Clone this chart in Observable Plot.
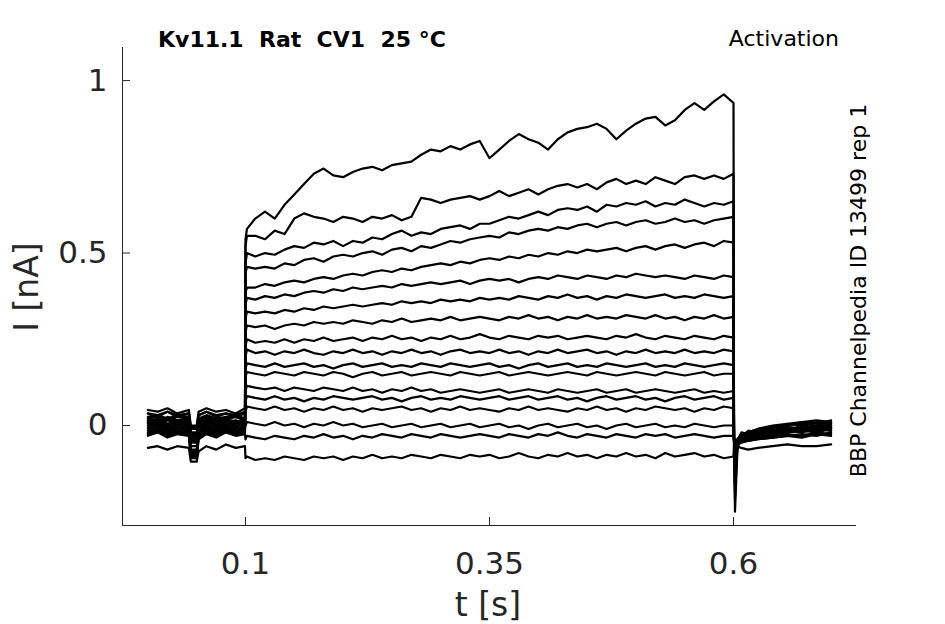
<!DOCTYPE html>
<html>
<head>
<meta charset="utf-8">
<script src="https://cdn.jsdelivr.net/npm/d3@7"></script>
<script src="https://cdn.jsdelivr.net/npm/@observablehq/plot@0.6"></script>
<style>
  html, body { margin: 0; padding: 0; background: #ffffff; }
</style>
</head>
<body>
<div id="chart"></div>
<script>
// ---- data ----
// sample times [s]: pre-pulse, step (0.1 - 0.6 s), tail
const time = [
  0, 0.01, 0.02, 0.03, 0.042, 0.044, 0.05, 0.052, 0.06, 0.07, 0.08, 0.09, 0.0995,
  0.1, 0.1015,
  0.11, 0.12, 0.13, 0.14, 0.15, 0.16, 0.17, 0.18, 0.19, 0.20,
  0.21, 0.22, 0.23, 0.24, 0.25, 0.26, 0.27, 0.28, 0.29, 0.30,
  0.31, 0.32, 0.33, 0.34, 0.35, 0.36, 0.37, 0.38, 0.39, 0.40,
  0.41, 0.42, 0.43, 0.44, 0.45, 0.46, 0.47, 0.48, 0.49, 0.50,
  0.51, 0.52, 0.53, 0.54, 0.55, 0.56, 0.57, 0.58, 0.59, 0.60,
  0.6005, 0.6015, 0.604, 0.608, 0.615, 0.625, 0.64, 0.655, 0.67, 0.685, 0.70
];

// current [nA] of each sweep at those times
const sweep01 = [
  0.01, 0.02, 0.005, 0.015, 0.0, -0.05, -0.05, -0.01, 0.015, 0.005, 0.02, 0.01, 0.015,
  0.54, 0.57,
  0.60, 0.62, 0.60, 0.64, 0.67, 0.70, 0.73, 0.745, 0.725, 0.72,
  0.735, 0.745, 0.75, 0.74, 0.755, 0.76, 0.765, 0.785, 0.80, 0.795,
  0.81, 0.80, 0.815, 0.825, 0.775, 0.80, 0.825, 0.845, 0.83, 0.82,
  0.80, 0.83, 0.85, 0.86, 0.865, 0.875, 0.86, 0.83, 0.855, 0.875,
  0.89, 0.895, 0.87, 0.885, 0.915, 0.935, 0.915, 0.94, 0.96, 0.935,
  -0.04, -0.25, -0.07, -0.03, -0.02, -0.01, 0.0, 0.005, 0.01, 0.015, 0.01
];
const sweep02 = [
  0.035, 0.025, 0.04, 0.03, 0.035, -0.02, -0.02, 0.03, 0.04, 0.025, 0.035, 0.03, 0.04,
  0.52, 0.55,
  0.55, 0.54, 0.565, 0.555, 0.60, 0.615, 0.605, 0.60, 0.59, 0.605,
  0.60, 0.59, 0.605, 0.60, 0.61, 0.595, 0.605, 0.66, 0.655, 0.645,
  0.655, 0.66, 0.665, 0.655, 0.665, 0.68, 0.665, 0.675, 0.685, 0.67,
  0.685, 0.695, 0.70, 0.69, 0.70, 0.685, 0.705, 0.715, 0.70, 0.71,
  0.70, 0.72, 0.71, 0.70, 0.72, 0.725, 0.715, 0.725, 0.715, 0.73,
  -0.035, -0.21, -0.06, -0.035, -0.015, -0.02, -0.005, 0.0, 0.01, 0.005, 0.015
];
const sweep03 = [
  -0.01, 0.0, -0.015, -0.005, -0.01, -0.08, -0.08, -0.02, -0.005, -0.015, 0.0, -0.01, -0.005,
  0.47, 0.50,
  0.49, 0.50, 0.495, 0.51, 0.52, 0.515, 0.53, 0.525, 0.535, 0.52,
  0.535, 0.53, 0.545, 0.54, 0.555, 0.565, 0.55, 0.56, 0.555, 0.57,
  0.575, 0.58, 0.57, 0.585, 0.585, 0.595, 0.605, 0.60, 0.61, 0.62,
  0.61, 0.625, 0.63, 0.625, 0.635, 0.62, 0.64, 0.635, 0.645, 0.64,
  0.65, 0.635, 0.645, 0.64, 0.655, 0.645, 0.635, 0.645, 0.64, 0.65,
  -0.03, -0.19, -0.055, -0.025, -0.03, -0.015, -0.01, 0.005, 0.0, 0.01, 0.005
];
const sweep04 = [
  0.02, 0.01, 0.025, 0.015, 0.02, -0.03, -0.03, 0.01, 0.025, 0.015, 0.02, 0.025, 0.015,
  0.44, 0.46,
  0.455, 0.46, 0.455, 0.47, 0.465, 0.48, 0.485, 0.475, 0.49, 0.495,
  0.49, 0.50, 0.505, 0.495, 0.51, 0.515, 0.505, 0.52, 0.515, 0.525,
  0.535, 0.53, 0.54, 0.545, 0.55, 0.545, 0.56, 0.555, 0.565, 0.57,
  0.565, 0.575, 0.57, 0.58, 0.585, 0.575, 0.585, 0.59, 0.58, 0.59,
  0.595, 0.585, 0.59, 0.60, 0.59, 0.595, 0.585, 0.595, 0.60, 0.605,
  -0.04, -0.17, -0.05, -0.03, -0.02, -0.025, -0.01, -0.015, 0.0, -0.005, 0.005
];
const sweep05 = [
  0.0, 0.01, -0.005, 0.005, 0.0, -0.06, -0.06, -0.01, 0.005, -0.005, 0.01, 0.0, 0.005,
  0.385, 0.40,
  0.40, 0.41, 0.405, 0.415, 0.42, 0.415, 0.425, 0.43, 0.425, 0.435,
  0.44, 0.435, 0.445, 0.45, 0.445, 0.455, 0.45, 0.46, 0.465, 0.47,
  0.465, 0.475, 0.47, 0.48, 0.485, 0.48, 0.49, 0.485, 0.495, 0.49,
  0.50, 0.495, 0.505, 0.50, 0.51, 0.505, 0.51, 0.515, 0.505, 0.515,
  0.52, 0.51, 0.52, 0.525, 0.515, 0.525, 0.53, 0.52, 0.535, 0.53,
  -0.03, -0.15, -0.045, -0.02, -0.025, -0.015, -0.02, -0.005, -0.01, 0.0, -0.005
];
const sweep06 = [
  0.045, 0.04, 0.05, 0.035, 0.045, 0.0, 0.0, 0.04, 0.05, 0.04, 0.045, 0.035, 0.05,
  0.35, 0.37,
  0.365, 0.375, 0.37, 0.38, 0.375, 0.385, 0.39, 0.385, 0.395, 0.39,
  0.40, 0.395, 0.40, 0.405, 0.40, 0.41, 0.405, 0.41, 0.415, 0.41,
  0.415, 0.42, 0.41, 0.42, 0.425, 0.42, 0.425, 0.415, 0.425, 0.43,
  0.425, 0.435, 0.43, 0.425, 0.435, 0.43, 0.425, 0.435, 0.43, 0.44,
  0.435, 0.43, 0.435, 0.43, 0.425, 0.435, 0.43, 0.425, 0.435, 0.43,
  -0.035, -0.14, -0.05, -0.035, -0.03, -0.02, -0.015, -0.01, -0.005, -0.01, 0.0
];
const sweep07 = [
  -0.02, -0.01, -0.025, -0.015, -0.02, -0.09, -0.09, -0.03, -0.015, -0.025, -0.01, -0.02, -0.015,
  0.31, 0.33,
  0.325, 0.33, 0.325, 0.335, 0.33, 0.34, 0.335, 0.345, 0.34, 0.345,
  0.35, 0.345, 0.35, 0.355, 0.35, 0.36, 0.355, 0.36, 0.355, 0.365,
  0.36, 0.365, 0.36, 0.37, 0.365, 0.37, 0.365, 0.375, 0.37, 0.365,
  0.375, 0.37, 0.38, 0.37, 0.375, 0.365, 0.375, 0.37, 0.38, 0.375,
  0.37, 0.375, 0.38, 0.37, 0.375, 0.37, 0.38, 0.375, 0.37, 0.375,
  -0.04, -0.12, -0.045, -0.03, -0.035, -0.025, -0.02, -0.015, -0.02, -0.01, -0.015
];
const sweep08 = [
  0.01, 0.0, 0.015, 0.005, 0.01, -0.04, -0.04, 0.0, 0.015, 0.005, 0.01, 0.015, 0.005,
  0.27, 0.29,
  0.285, 0.29, 0.28, 0.29, 0.295, 0.29, 0.30, 0.295, 0.30, 0.295,
  0.305, 0.30, 0.295, 0.305, 0.30, 0.31, 0.30, 0.305, 0.31, 0.305,
  0.315, 0.305, 0.31, 0.315, 0.31, 0.305, 0.315, 0.31, 0.32, 0.31,
  0.315, 0.305, 0.315, 0.31, 0.32, 0.31, 0.315, 0.31, 0.32, 0.315,
  0.31, 0.32, 0.31, 0.315, 0.305, 0.315, 0.31, 0.32, 0.31, 0.315,
  -0.03, -0.11, -0.05, -0.04, -0.025, -0.03, -0.02, -0.01, -0.015, -0.005, -0.01
];
const sweep09 = [
  0.025, 0.03, 0.02, 0.03, 0.025, -0.01, -0.01, 0.02, 0.03, 0.02, 0.025, 0.03, 0.02,
  0.23, 0.25,
  0.24, 0.245, 0.24, 0.25, 0.24, 0.25, 0.245, 0.255, 0.245, 0.25,
  0.255, 0.245, 0.255, 0.25, 0.26, 0.25, 0.255, 0.245, 0.255, 0.25,
  0.26, 0.25, 0.255, 0.265, 0.255, 0.25, 0.26, 0.255, 0.25, 0.26,
  0.255, 0.26, 0.25, 0.255, 0.26, 0.255, 0.25, 0.26, 0.255, 0.265,
  0.255, 0.25, 0.26, 0.255, 0.25, 0.26, 0.255, 0.25, 0.26, 0.255,
  -0.035, -0.10, -0.04, -0.025, -0.02, -0.01, -0.005, 0.0, 0.005, 0.0, 0.01
];
const sweep10 = [
  -0.005, 0.005, -0.01, 0.0, -0.005, -0.07, -0.07, -0.015, 0.0, -0.01, 0.005, -0.005, 0.0,
  0.20, 0.22,
  0.21, 0.215, 0.205, 0.215, 0.21, 0.22, 0.21, 0.205, 0.215, 0.21,
  0.22, 0.21, 0.215, 0.205, 0.215, 0.21, 0.22, 0.21, 0.215, 0.205,
  0.215, 0.22, 0.21, 0.215, 0.21, 0.22, 0.21, 0.215, 0.205, 0.215,
  0.21, 0.22, 0.21, 0.215, 0.22, 0.21, 0.215, 0.205, 0.215, 0.21,
  0.22, 0.21, 0.215, 0.21, 0.22, 0.21, 0.215, 0.21, 0.22, 0.215,
  -0.045, -0.09, -0.055, -0.04, -0.035, -0.03, -0.025, -0.02, -0.015, -0.02, -0.01
];
const sweep11 = [
  0.015, 0.005, 0.02, 0.01, 0.015, -0.035, -0.035, 0.005, 0.02, 0.01, 0.015, 0.005, 0.02,
  0.165, 0.18,
  0.175, 0.17, 0.18, 0.17, 0.175, 0.18, 0.17, 0.175, 0.165, 0.175,
  0.18, 0.17, 0.175, 0.18, 0.17, 0.175, 0.17, 0.18, 0.175, 0.17,
  0.18, 0.175, 0.17, 0.175, 0.18, 0.17, 0.175, 0.165, 0.175, 0.18,
  0.17, 0.175, 0.18, 0.17, 0.175, 0.17, 0.18, 0.175, 0.17, 0.175,
  0.18, 0.17, 0.175, 0.17, 0.18, 0.175, 0.17, 0.175, 0.18, 0.175,
  -0.03, -0.08, -0.04, -0.03, -0.02, -0.015, -0.01, -0.005, -0.01, 0.0, -0.005
];
const sweep12 = [
  -0.025, -0.015, -0.03, -0.02, -0.025, -0.085, -0.085, -0.035, -0.02, -0.03, -0.015, -0.025, -0.02,
  0.14, 0.155,
  0.15, 0.145, 0.155, 0.15, 0.145, 0.155, 0.15, 0.145, 0.155, 0.15,
  0.14, 0.15, 0.155, 0.145, 0.15, 0.155, 0.145, 0.15, 0.155, 0.15,
  0.145, 0.155, 0.15, 0.145, 0.15, 0.155, 0.145, 0.15, 0.155, 0.15,
  0.145, 0.15, 0.155, 0.15, 0.145, 0.155, 0.15, 0.145, 0.15, 0.155,
  0.15, 0.145, 0.155, 0.15, 0.145, 0.15, 0.155, 0.145, 0.15, 0.15,
  -0.04, -0.075, -0.045, -0.035, -0.03, -0.025, -0.03, -0.02, -0.015, -0.01, -0.015
];
const sweep13 = [
  0.035, 0.03, 0.04, 0.025, 0.035, -0.005, -0.005, 0.03, 0.04, 0.03, 0.035, 0.025, 0.035,
  0.10, 0.115,
  0.11, 0.105, 0.11, 0.10, 0.11, 0.105, 0.10, 0.11, 0.105, 0.10,
  0.11, 0.10, 0.105, 0.095, 0.105, 0.10, 0.11, 0.10, 0.105, 0.095,
  0.10, 0.105, 0.10, 0.095, 0.10, 0.105, 0.095, 0.10, 0.105, 0.10,
  0.095, 0.105, 0.10, 0.095, 0.10, 0.105, 0.095, 0.10, 0.105, 0.095,
  0.10, 0.105, 0.10, 0.095, 0.10, 0.105, 0.095, 0.10, 0.095, 0.10,
  -0.035, -0.07, -0.04, -0.03, -0.025, -0.02, -0.015, -0.02, -0.01, -0.005, 0.0
];
const sweep14 = [
  0.005, 0.015, 0.0, 0.01, 0.005, -0.045, -0.045, -0.005, 0.01, 0.0, 0.015, 0.005, 0.01,
  0.07, 0.085,
  0.08, 0.075, 0.085, 0.075, 0.08, 0.07, 0.08, 0.075, 0.085, 0.08,
  0.075, 0.08, 0.085, 0.075, 0.08, 0.07, 0.08, 0.085, 0.075, 0.08,
  0.075, 0.085, 0.08, 0.075, 0.08, 0.085, 0.075, 0.08, 0.085, 0.075,
  0.08, 0.085, 0.075, 0.08, 0.07, 0.08, 0.085, 0.075, 0.08, 0.085,
  0.075, 0.08, 0.07, 0.08, 0.085, 0.075, 0.08, 0.085, 0.075, 0.08,
  -0.04, -0.065, -0.05, -0.045, -0.04, -0.035, -0.03, -0.025, -0.03, -0.02, -0.025
];
const sweep15 = [
  -0.015, -0.005, -0.02, -0.01, -0.015, -0.075, -0.075, -0.025, -0.01, -0.02, -0.005, -0.015, -0.01,
  0.04, 0.055,
  0.05, 0.045, 0.055, 0.045, 0.05, 0.04, 0.05, 0.045, 0.055, 0.045,
  0.05, 0.04, 0.05, 0.045, 0.05, 0.055, 0.045, 0.05, 0.04, 0.05,
  0.045, 0.055, 0.045, 0.05, 0.045, 0.04, 0.05, 0.045, 0.055, 0.045,
  0.05, 0.045, 0.04, 0.05, 0.045, 0.055, 0.045, 0.05, 0.04, 0.05,
  0.045, 0.055, 0.05, 0.045, 0.05, 0.04, 0.05, 0.045, 0.055, 0.05,
  -0.045, -0.06, -0.05, -0.04, -0.045, -0.04, -0.035, -0.03, -0.025, -0.03, -0.02
];
const sweep16 = [
  0.02, 0.025, 0.015, 0.025, 0.02, -0.025, -0.025, 0.015, 0.025, 0.015, 0.02, 0.025, 0.015,
  0.0, 0.01,
  0.005, 0.0, 0.01, 0.0, 0.005, -0.005, 0.005, 0.0, 0.01, 0.0,
  0.005, -0.005, 0.0, 0.005, -0.005, 0.0, 0.005, -0.005, 0.0, 0.005,
  -0.005, 0.0, 0.005, -0.005, 0.0, 0.005, -0.005, 0.0, -0.01, 0.0,
  0.005, -0.005, 0.0, 0.005, -0.005, 0.0, -0.01, 0.0, 0.005, -0.005,
  0.0, 0.005, -0.005, 0.0, -0.005, 0.005, 0.0, -0.005, 0.0, 0.0,
  -0.04, -0.055, -0.045, -0.035, -0.03, -0.02, -0.025, -0.015, -0.01, -0.015, -0.005
];
const sweep17 = [
  -0.03, -0.02, -0.035, -0.025, -0.03, -0.095, -0.095, -0.04, -0.025, -0.035, -0.02, -0.03, -0.025,
  -0.04, -0.03,
  -0.035, -0.04, -0.03, -0.035, -0.04, -0.03, -0.035, -0.025, -0.035, -0.03,
  -0.04, -0.03, -0.035, -0.025, -0.03, -0.035, -0.025, -0.03, -0.035, -0.025,
  -0.03, -0.035, -0.03, -0.025, -0.03, -0.035, -0.025, -0.03, -0.035, -0.025,
  -0.03, -0.02, -0.03, -0.035, -0.025, -0.03, -0.035, -0.025, -0.03, -0.035,
  -0.025, -0.03, -0.025, -0.035, -0.03, -0.025, -0.03, -0.035, -0.03, -0.03,
  -0.05, -0.06, -0.055, -0.05, -0.045, -0.04, -0.035, -0.03, -0.035, -0.025, -0.03
];
const sweep18 = [
  -0.065, -0.06, -0.07, -0.06, -0.065, -0.105, -0.105, -0.075, -0.06, -0.07, -0.055, -0.065, -0.06,
  -0.095, -0.09,
  -0.10, -0.095, -0.10, -0.09, -0.095, -0.10, -0.09, -0.095, -0.09, -0.10,
  -0.09, -0.095, -0.085, -0.095, -0.09, -0.095, -0.085, -0.09, -0.095, -0.085,
  -0.09, -0.095, -0.085, -0.09, -0.085, -0.095, -0.09, -0.08, -0.09, -0.095,
  -0.085, -0.09, -0.08, -0.09, -0.085, -0.095, -0.085, -0.09, -0.08, -0.09,
  -0.085, -0.095, -0.08, -0.09, -0.085, -0.08, -0.09, -0.085, -0.095, -0.09,
  -0.05, -0.06, -0.06, -0.065, -0.07, -0.065, -0.06, -0.055, -0.06, -0.06, -0.055
];

const sweeps = [sweep01, sweep02, sweep03, sweep04, sweep05, sweep06, sweep07, sweep08, sweep09,
                sweep10, sweep11, sweep12, sweep13, sweep14, sweep15, sweep16, sweep17, sweep18];

const xTicks = [0.1, 0.35, 0.6];
const yTicks = [0, 0.5, 1];
const titleText = "Kv11.1  Rat  CV1  25 °C";
const protocolText = "Activation";
const sourceText = "BBP Channelpedia ID 13499 rep 1";
const xLabel = "t [s]";
const yLabel = "I [nA]";

// ---- build table ----
const rows = [];
sweeps.forEach((vals, k) => {
  const n = Math.min(vals.length, time.length);
  for (let j = 0; j < n; j++) rows.push({sweep: k, t: time[j], I: vals[j]});
});

const xDomain = [-0.026, 0.726];
const yDomain = [-0.29, 1.096];
const axisColor = "#262626";

const plot = Plot.plot({
  width: 945,
  height: 624,
  marginLeft: 122,
  marginRight: 89,
  marginTop: 47,
  marginBottom: 99,
  x: {domain: xDomain},
  y: {domain: yDomain},
  style: {fontFamily: "DejaVu Sans", background: "#ffffff", color: axisColor},
  marks: [
    Plot.ruleX([xDomain[0]], {stroke: axisColor, strokeWidth: 1}),
    Plot.ruleY([yDomain[0]], {stroke: axisColor, strokeWidth: 1}),
    Plot.line(rows, {x: "t", y: "I", z: "sweep", stroke: "#000000", strokeWidth: 2.2, strokeLinejoin: "round"}),
    // tick labels
    Plot.axisX({ticks: xTicks, tickSize: 0, tickPadding: 26, fontSize: 31, tickFormat: d => String(d), label: null, fill: axisColor}),
    Plot.axisY({ticks: yTicks, tickSize: 0, tickPadding: 15, fontSize: 31, tickFormat: d => String(d), label: null, fill: axisColor}),
    // inward tick marks
    Plot.axisX({ticks: xTicks, tickSize: 8, dy: -8, fill: "none", label: null, stroke: axisColor}),
    Plot.axisY({ticks: yTicks, tickSize: 8, dx: 8, fill: "none", label: null, stroke: axisColor})
  ]
});

const svg = d3.select(plot);
svg.append("text")
  .attr("x", 158).attr("y", 46.5)
  .attr("text-anchor", "start")
  .style("font-family", "DejaVu Sans").style("font-weight", "bold").style("font-size", "22px")
  .style("white-space", "pre").attr("fill", "#000000")
  .text(titleText);
svg.append("text")
  .attr("x", 839).attr("y", 46)
  .attr("text-anchor", "end")
  .style("font-family", "DejaVu Sans").style("font-size", "22px").attr("fill", "#000000")
  .text(protocolText);
svg.append("text")
  .attr("transform", "translate(866,290.5) rotate(-90)")
  .attr("text-anchor", "middle")
  .style("font-family", "DejaVu Sans").style("font-size", "22px").attr("fill", "#000000")
  .text(sourceText);
svg.append("text")
  .attr("x", 488).attr("y", 616)
  .attr("text-anchor", "middle")
  .style("font-family", "DejaVu Sans").style("font-size", "33px").attr("fill", axisColor)
  .text(xLabel);
svg.append("text")
  .attr("transform", "translate(38,287) rotate(-90)")
  .attr("text-anchor", "middle")
  .style("font-family", "DejaVu Sans").style("font-size", "33px").attr("fill", axisColor)
  .text(yLabel);

document.getElementById("chart").appendChild(plot);
</script>
</body>
</html>
